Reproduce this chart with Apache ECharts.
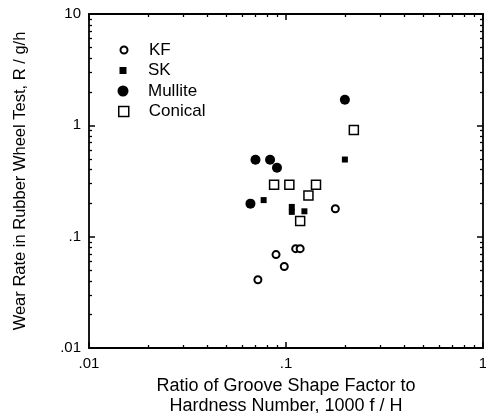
<!DOCTYPE html>
<html>
<head>
<meta charset="utf-8">
<script src="https://cdn.jsdelivr.net/npm/echarts@6/dist/echarts.min.js"></script>
<style>
html,body{margin:0;padding:0;background:#fff;}
#chart{width:486px;height:413px;}
</style>
</head>
<body>
<div id="chart"></div>
<script>
// data: [ratio 1000 f/H, wear rate R g/h]
var kf      = [[0.072,0.041],[0.089,0.069],[0.098,0.054],[0.112,0.078],[0.118,0.078],[0.178,0.178]];
var sk      = [[0.077,0.213],[0.107,0.185],[0.107,0.167],[0.124,0.169],[0.199,0.493]];
var mullite = [[0.066,0.198],[0.070,0.49],[0.083,0.49],[0.090,0.416],[0.199,1.70]];
var conical = [[0.087,0.292],[0.104,0.292],[0.142,0.292],[0.130,0.234],[0.118,0.138],[0.221,0.906]];

var seriesNames = ['KF','SK','Mullite','Conical'];
var xTickLabels = ['.01','.1','1'];
var yTickLabels = ['.01','.1','1','10'];

// minor tick positions (log10 space) for the overlay axes
function minorTicks(lo, hi){
	var out = [];
	for (var d = lo; d < hi; d++) {
		for (var k = 2; k <= 9; k++) out.push(d + Math.log10(k));
	}
	return out;
}

var font = 'Liberation Sans, Arial, sans-serif';

function fmt(v){
	var s = String(+(+v).toPrecision(3));
	return s.replace(/^0\./, '.');
}

function logAxis(pos, min, max, labels, extra){
	var a = {
		type:'log', logBase:10, position:pos, min:min, max:max,
		axisLine:{show:true, onZero:false, lineStyle:{color:'#000', width:1.8}},
		axisTick:{show:true, inside:true, length:6, lineStyle:{color:'#000', width:1.5}},
		axisLabel:{show:labels, color:'#000', fontFamily:font, fontSize:15, margin:8, formatter:fmt},
		splitLine:{show:false}
	};
	for (var k in extra) a[k] = extra[k];
	return a;
}
function minorAxis(pos, lo, hi){
	return {
		type:'value', position:pos, min:lo, max:hi,
		axisLine:{show:false, onZero:false},
		axisTick:{show:true, inside:true, length:3, customValues:minorTicks(lo,hi), lineStyle:{color:'#000', width:1.3}},
		axisLabel:{show:false},
		splitLine:{show:false}
	};
}

var chart = echarts.init(document.getElementById('chart'));

// legend: one block per series so each icon keeps its own size
var legends = [];
var legendSizes = [7, 7, 11, 10];
var legendStyles = [
	{color:'#fff', borderColor:'#000', borderWidth:2},
	{color:'#000', borderWidth:0},
	{color:'#000', borderWidth:0},
	{color:'#fff', borderColor:'#000', borderWidth:1.5}
];
for (var i = 0; i < seriesNames.length; i++) {
	var s = legendSizes[i];
	legends.push({
		data:[seriesNames[i]], orient:'vertical', left:123 - s / 2, top:41.5 + i*20.5,
		padding:0, itemWidth:s, itemHeight:s,
		itemStyle:legendStyles[i], selectedMode:false,
		textStyle:{color:'#000', fontFamily:font, fontSize:17, padding:[0, 0, 0, 20 - s / 2]}
	});
}

var option = {
	backgroundColor:'#fff',
	animation:false,
	grid:{left:89, right:3, top:14, bottom:65, outerBoundsMode:'none', containLabel:false},
	legend:legends,
	xAxis:[
		logAxis('bottom', 0.01, 1, true, {
			name:'Ratio of Groove Shape Factor to\nHardness Number, 1000 f / H',
			nameLocation:'middle', nameGap:22,
			nameTextStyle:{color:'#000', fontFamily:font, fontSize:18, lineHeight:20}
		}),
		minorAxis('bottom', -2, 0),
		logAxis('top', 0.01, 1, false, {}),
		minorAxis('top', -2, 0)
	],
	yAxis:[
		logAxis('left', 0.01, 10, true, {
			name:'Wear Rate in Rubber Wheel Test, R / g/h',
			nameLocation:'middle', nameGap:60, nameRotate:90,
			nameTextStyle:{color:'#000', fontFamily:font, fontSize:16.5}
		}),
		minorAxis('left', -2, 1),
		logAxis('right', 0.01, 10, false, {}),
		minorAxis('right', -2, 1)
	],
	series:[
		{name:'KF', type:'scatter', data:kf, symbol:'circle', symbolSize:7,
			itemStyle:{color:'#fff', borderColor:'#000', borderWidth:2, opacity:1}},
		{name:'SK', type:'scatter', data:sk, symbol:'rect', symbolSize:6,
			itemStyle:{color:'#000', opacity:1}},
		{name:'Mullite', type:'scatter', data:mullite, symbol:'circle', symbolSize:10,
			itemStyle:{color:'#000', opacity:1}},
		{name:'Conical', type:'scatter', data:conical, symbol:'rect', symbolSize:9,
			itemStyle:{color:'#fff', borderColor:'#000', borderWidth:1.5, opacity:1}}
	]
};
chart.setOption(option);
</script>
</body>
</html>
